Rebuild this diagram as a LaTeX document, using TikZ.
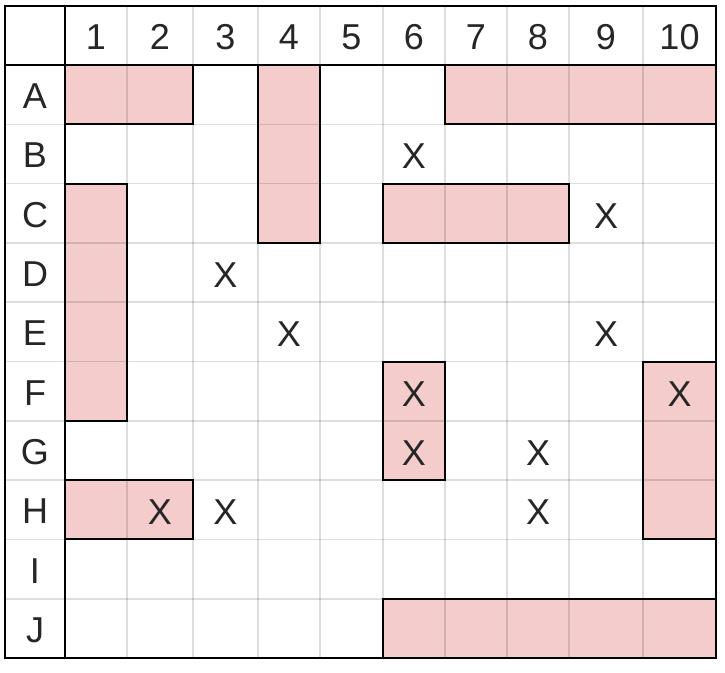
\documentclass[tikz,border=0pt]{standalone}
\usepackage{fontspec}
\setmainfont{Liberation Sans}
\usetikzlibrary{calc}
\definecolor{shippink}{HTML}{F4CCCC}
\definecolor{inkgray}{HTML}{262626}
\newcommand{\shiplist}{0/0/2/1, 3/0/4/3, 6/0/10/1, 0/2/1/6, 5/2/8/3,
  5/5/6/7, 9/5/10/8, 0/7/2/8, 5/9/10/10}

\begin{document}
\begin{tikzpicture}[x=1pt,y=-1pt,
    ship/.style={draw=black,line width=2pt},
    thin grid/.style={draw=black,draw opacity=0.13,line width=1.6pt},
    frame/.style={draw=black,line width=2.4pt},
    lbl/.style={font=\fontsize{36}{36}\selectfont,text=inkgray,inner sep=0pt,
      text height=26pt,text depth=0pt,yshift=-1pt}]
        \useasboundingbox (0,0) rectangle (725,672);
        \fill[white] (0,0) rectangle (725,672);
        %% edges of the columns and rows
        \coordinate (L) at (5,6);
        \coordinate (T) at (5,6);
        \foreach \i/\x in {0/65,1/127,2/193,3/258,4/320,5/383,6/445,7/507,8/569,9/643,10/716}
          \coordinate (c\i) at (\x,6);
        \foreach \j/\y in {0/65,1/124.3,2/183.6,3/242.9,4/302.2,5/361.5,6/420.8,7/480.1,8/539.4,9/598.7,10/658}
          \coordinate (r\j) at (5,\y);
        %% ships, fill under the grid
        \foreach \a/\b/\c/\d in \shiplist
          \fill[shippink] (c\a |- r\b) rectangle (c\c |- r\d);
        %% light grid
        \foreach \i in {1,...,9}
          \draw[thin grid] (c\i |- T) -- (c\i |- r10);
        \foreach \j in {1,...,9}
          \draw[thin grid] (L |- r\j) -- (c10 |- r\j);
        \foreach \a/\b/\c/\d in \shiplist
          \draw[ship] (c\a |- r\b) rectangle (c\c |- r\d);
        %% frame and headers
        \draw[frame] (L) rectangle (c10 |- r10);
        \draw[frame] (c0 |- T) -- (c0 |- r10);
        \draw[frame] (L |- r0) -- (c10 |- r0);
        \foreach \i/\ip in {1/0,2/1,3/2,4/3,5/4,6/5,7/6,8/7,9/8,10/9}
          \node[lbl] (col\i) at ($(c\ip |- T)!0.5!(c\i |- r0)$) {\i};
        \foreach \l/\j/\jp in {A/1/0,B/2/1,C/3/2,D/4/3,E/5/4,F/6/5,G/7/6,H/8/7,I/9/8,J/10/9}
          \node[lbl] (row\l) at ($(L |- r\jp)!0.5!(c0 |- r\j)$) {\l};
        %% shots
        \foreach \l/\i in {B/6, C/9, D/3, E/4, E/9, F/6, F/10, G/6, G/8, H/2, H/3, H/8}
          \node[lbl,yshift=0pt] (x\l\i) at (col\i |- row\l) {X};
      \end{tikzpicture}
\end{document}
